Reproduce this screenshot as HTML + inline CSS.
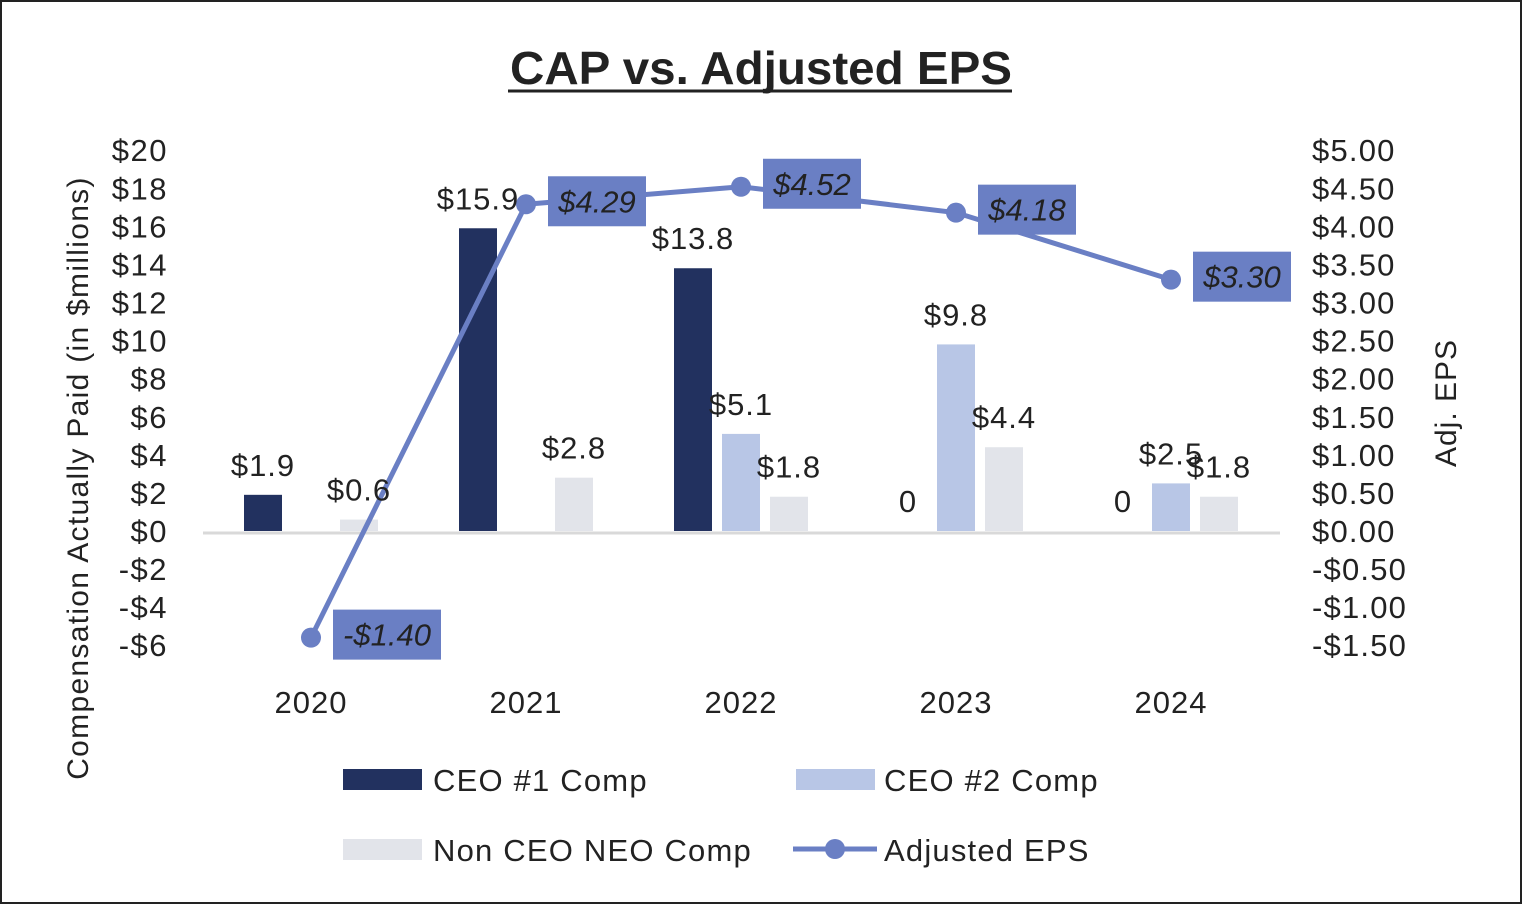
<!DOCTYPE html>
<html><head><meta charset="utf-8"><style>
body{margin:0;background:#fff;}
svg{display:block;font-family:"Liberation Sans",sans-serif;}
</style></head><body>
<svg id="chart" width="1522" height="904">
<rect x="1" y="1" width="1520" height="902" fill="#fff" stroke="#222" stroke-width="2"/>
<text x="510" y="84" textLength="502" lengthAdjust="spacingAndGlyphs" font-size="46" font-weight="bold" fill="#222">CAP vs. Adjusted EPS</text>
<line x1="508" y1="91" x2="1012" y2="91" stroke="#222" stroke-width="3"/>
<g id="grid"></g><g id="bars"></g><g id="line"></g><g id="labels"></g>
<text transform="translate(88,478) rotate(-90)" text-anchor="middle" font-size="30" letter-spacing="1.3" fill="#222">Compensation Actually Paid (in $millions)</text>
<text transform="translate(1456,403) rotate(-90)" text-anchor="middle" font-size="30" letter-spacing="1" fill="#222">Adj. EPS</text>
<g>
<rect x="343" y="769" width="79" height="21" fill="#22315f"/>
<text x="433" y="791" font-size="31" letter-spacing="1.2" fill="#222">CEO #1 Comp</text>
<rect x="796" y="769" width="79" height="21" fill="#b8c6e6"/>
<text x="884" y="791" font-size="31" letter-spacing="1.2" fill="#222">CEO #2 Comp</text>
<rect x="343" y="839" width="79" height="21" fill="#e2e4ea"/>
<text x="433" y="861" font-size="31" letter-spacing="1.2" fill="#222">Non CEO NEO Comp</text>
<line x1="793" y1="849" x2="877" y2="849" stroke="#6a7fc4" stroke-width="5"/>
<circle cx="835" cy="849" r="10" fill="#6a7fc4"/>
<text x="884" y="861" font-size="31" letter-spacing="1.2" fill="#222">Adjusted EPS</text>
</g>
</svg>
<script>
const years=["2020","2021","2022","2023","2024"];
const ceo1=[1.9,15.9,13.8,0,0];
const ceo2=[null,null,5.1,9.8,2.5];
const nonCeo=[0.6,2.8,1.8,4.4,1.8];
const eps=[-1.40,4.29,4.52,4.18,3.30];
const leftTicks=[20,18,16,14,12,10,8,6,4,2,0,-2,-4,-6];
const rightTicks=[5,4.5,4,3.5,3,2.5,2,1.5,1,0.5,0,-0.5,-1,-1.5];
const NS="http://www.w3.org/2000/svg";
const y0=531,unit=38.08/2;
const yL=v=>y0-v*unit;
const yR=v=>y0-v*unit*4;
const xC=i=>311+i*215;
function mk(tag,attrs,parent,txt){const e=document.createElementNS(NS,tag);for(const k in attrs)e.setAttribute(k,attrs[k]);if(txt!=null)e.textContent=txt;document.getElementById(parent).appendChild(e);return e;}
leftTicks.forEach(v=>{const t=mk('text',{x:168,y:yL(v)+11,'text-anchor':'end','font-size':31,'letter-spacing':1.5,fill:'#222'},'grid',(v<0?'-$'+(-v):'$'+v));

});
rightTicks.forEach(v=>{const t=mk('text',{x:1312,y:yR(v)+11,'font-size':31,'letter-spacing':1.2,fill:'#222'},'grid',(v<0?'-$'+(-v).toFixed(2):'$'+v.toFixed(2)));

});
const ax=mk('line',{x1:203,y1:y0+2,x2:1280,y2:y0+2,stroke:'#d9d9d9','stroke-width':3},'grid');


years.forEach((y,i)=>{const t=mk('text',{x:xC(i),y:713,'text-anchor':'middle','font-size':31,'letter-spacing':1,fill:'#222'},'grid',y);

});
const series=[[ceo1,-48,'#22315f','ceo1'],[ceo2,0,'#b8c6e6','ceo2'],[nonCeo,48,'#e2e4ea','nonceo']];
series.forEach(([arr,off,col,nm])=>{arr.forEach((v,i)=>{if(v==null)return;const cx=xC(i)+off;
if(v>0){const r=mk('rect',{x:cx-19,y:yL(v),width:38,height:y0-yL(v),fill:col},'bars');

}
const t=mk('text',{x:cx,y:v>0?yL(v)-19:y0-19,'text-anchor':'middle','font-size':31,'letter-spacing':1,fill:'#222'},'labels',v>0?'$'+v.toFixed(1):'0');

});});
const p=mk('polyline',{points:eps.map((v,i)=>xC(i)+','+yR(v)).join(' '),fill:'none',stroke:'#6a7fc4','stroke-width':5},'line');


eps.forEach((v,i)=>{const c=mk('circle',{cx:xC(i),cy:yR(v),r:10,fill:'#6a7fc4'},'line');


const bx=xC(i)+22,by=yR(v)-3;
const r=mk('rect',{x:bx,y:by-25,width:98,height:50,fill:'#6a7fc4'},'labels');


const t=mk('text',{x:bx+49,y:by+11,'text-anchor':'middle','font-size':31,'font-style':'italic',fill:'#222'},'labels',(v<0?'-$':'$')+Math.abs(v).toFixed(2));


if(v<0){r.setAttribute('width',108);t.setAttribute('x',bx+54);}});
</script>
</body></html>
